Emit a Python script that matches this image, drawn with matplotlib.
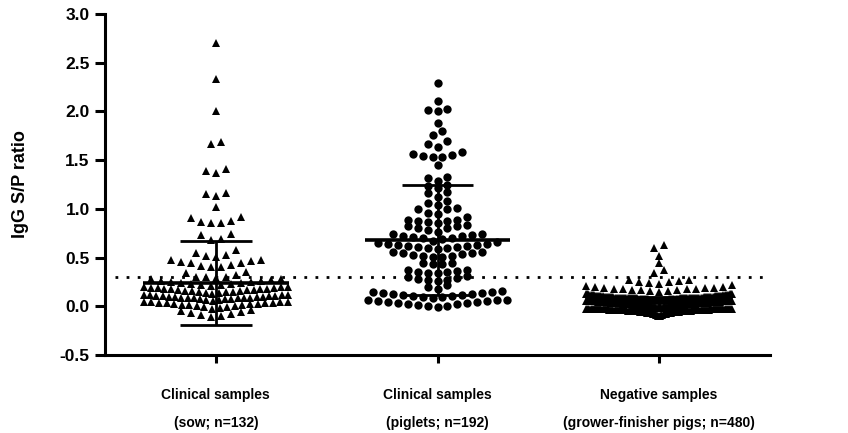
import numpy as np
import matplotlib
matplotlib.use("Agg")
import matplotlib.pyplot as plt

plt.rcParams["font.family"] = ["Liberation Sans", "DejaVu Sans"]
plt.rcParams["font.weight"] = "bold"

# ---------------- data ----------------
categories = [
    "Clinical samples\n(sow; n=132)",
    "Clinical samples\n(piglets; n=192)",
    "Negative samples\n(grower-finisher pigs; n=480)",
]

sow_values = [
    2.70, 2.33, 2.00, 1.69, 1.67, 1.41, 1.39, 1.37, 1.16, 1.15, 1.13, 1.02,
    0.92, 0.91, 0.88, 0.87, 0.85, 0.85, 0.74, 0.73, 0.69, 0.68,
    0.58, 0.55, 0.53, 0.52, 0.51,
    0.47, 0.47, 0.46, 0.455, 0.445, 0.44, 0.42, 0.41, 0.40, 0.40,
    0.35, 0.34, 0.32, 0.30, 0.30, 0.30, 0.29,
    0.28, 0.28, 0.27, 0.26, 0.26, 0.25, 0.25, 0.24, 0.24, 0.23, 0.23, 0.22,
    0.22, 0.21,
    0.20, 0.20, 0.20, 0.19, 0.19, 0.19, 0.18, 0.18, 0.18, 0.18, 0.17, 0.17,
    0.17, 0.16, 0.16, 0.16, 0.15, 0.15, 0.15, 0.14, 0.14, 0.13,
    0.12, 0.12, 0.12, 0.12, 0.11, 0.11, 0.11, 0.11, 0.10, 0.10, 0.10, 0.10,
    0.09, 0.09, 0.09, 0.08, 0.08, 0.08, 0.07, 0.07, 0.07, 0.06, 0.06, 0.05,
    0.04, 0.04, 0.04, 0.04, 0.03, 0.03, 0.03, 0.03, 0.02, 0.02, 0.02, 0.01,
    0.01, 0.01, 0.00, 0.00, -0.01, -0.01, -0.02, -0.03,
    -0.04, -0.05, -0.06, -0.07, -0.08, -0.09, -0.10, -0.11,
]

piglet_values = [
    2.29, 2.11, 2.02, 2.01, 2.00, 1.88, 1.80, 1.76, 1.70, 1.67, 1.64,
    1.58, 1.56, 1.55, 1.54, 1.53, 1.53, 1.45,
    1.33, 1.32, 1.29, 1.24, 1.23, 1.21, 1.17, 1.16, 1.12, 1.08, 1.06, 1.04,
    1.01, 1.00, 1.00, 0.96, 0.95,
    0.92, 0.89, 0.89, 0.88, 0.88, 0.86, 0.85,
    0.83, 0.82, 0.82, 0.80, 0.80, 0.78, 0.76,
    0.74, 0.74, 0.73, 0.72, 0.72, 0.71, 0.70, 0.70, 0.69, 0.67,
    0.66, 0.65, 0.64, 0.64, 0.63, 0.63, 0.62, 0.62, 0.61, 0.61, 0.60, 0.60, 0.59,
    0.56, 0.56, 0.55, 0.55, 0.54, 0.53, 0.52, 0.52, 0.51, 0.51,
    0.44, 0.44, 0.43, 0.43,
    0.37, 0.37, 0.36, 0.35, 0.35, 0.34, 0.34,
    0.31, 0.30, 0.29, 0.28, 0.27, 0.27, 0.26,
    0.22, 0.20, 0.18,
    0.16, 0.15, 0.15, 0.14, 0.14, 0.13, 0.13, 0.12, 0.12, 0.11, 0.11, 0.10,
    0.10, 0.09,
    0.06, 0.06, 0.06, 0.05, 0.05, 0.04, 0.04, 0.03, 0.03, 0.02, 0.02, 0.01,
    0.00, 0.00, -0.01,
]

negative_values = [
    0.63, 0.60, 0.52, 0.44, 0.37, 0.34,
    0.27, 0.27, 0.26, 0.25, 0.25, 0.24, 0.23,
    0.22, 0.21, 0.20, 0.20, 0.19, 0.19, 0.19, 0.18, 0.18,
    0.18, 0.18, 0.17, 0.17, 0.17, 0.16, 0.16, 0.15,
    0.13, 0.13, 0.13, 0.13, 0.13, 0.13,
    0.12, 0.12, 0.12, 0.12, 0.12, 0.12, 0.12, 0.12, 0.12, 0.12, 0.12,
    0.11, 0.11, 0.11, 0.11, 0.11, 0.11, 0.11, 0.11, 0.11, 0.11,
    0.11, 0.11, 0.11, 0.11, 0.11, 0.11,
    0.10, 0.10, 0.10, 0.10, 0.10, 0.10, 0.10, 0.10, 0.10, 0.10,
    0.10, 0.10, 0.10, 0.10, 0.10, 0.10, 0.10, 0.10, 0.10, 0.10,
    0.09, 0.09, 0.09, 0.09, 0.09, 0.09, 0.09, 0.09, 0.09, 0.09,
    0.09, 0.09, 0.09, 0.09, 0.09, 0.09, 0.09, 0.09, 0.09, 0.09,
    0.09, 0.09,
    0.08, 0.08, 0.08, 0.08, 0.08, 0.08, 0.08, 0.08, 0.08, 0.08,
    0.08, 0.08, 0.08, 0.08, 0.08, 0.08, 0.08, 0.08, 0.08, 0.08,
    0.08, 0.08,
    0.07, 0.07, 0.07, 0.07, 0.07, 0.07, 0.07, 0.07, 0.07, 0.07,
    0.07, 0.07, 0.07, 0.07, 0.07, 0.07, 0.07, 0.07, 0.07, 0.07,
    0.06, 0.06, 0.06, 0.06, 0.06, 0.06, 0.06, 0.06, 0.06, 0.06,
    0.06, 0.06, 0.06, 0.06, 0.06, 0.06, 0.06, 0.06,
    0.05, 0.05, 0.05, 0.05, 0.05, 0.05, 0.05, 0.05, 0.05, 0.05,
    0.05, 0.05, 0.05, 0.05, 0.05, 0.05, 0.05, 0.05, 0.05, 0.05,
    0.05, 0.05, 0.05, 0.05, 0.05, 0.05, 0.05, 0.05, 0.05, 0.05,
    0.04, 0.04, 0.04, 0.04, 0.04, 0.04, 0.04, 0.04, 0.04, 0.04,
    0.04, 0.04, 0.04, 0.04, 0.04, 0.04, 0.04, 0.04, 0.04, 0.04,
    0.04, 0.04, 0.04, 0.04, 0.04, 0.04, 0.04, 0.04, 0.04, 0.04,
    0.03, 0.03, 0.03, 0.03, 0.03, 0.03, 0.03, 0.03, 0.03, 0.03,
    0.03, 0.03, 0.03, 0.03, 0.03, 0.03, 0.03, 0.03, 0.03, 0.03,
    0.03, 0.03, 0.03, 0.03, 0.03, 0.03, 0.03, 0.03, 0.03, 0.03,
    0.02, 0.02, 0.02, 0.02, 0.02, 0.02, 0.02, 0.02, 0.02, 0.02,
    0.02, 0.02, 0.02, 0.02, 0.02, 0.02, 0.02, 0.02, 0.02, 0.02,
    0.02, 0.02, 0.02, 0.02, 0.02, 0.02,
    0.01, 0.01, 0.01, 0.01, 0.01, 0.01, 0.01, 0.01, 0.01, 0.01,
    0.01, 0.01, 0.01, 0.01, 0.01, 0.01, 0.01, 0.01, 0.01, 0.01,
    0.01, 0.01,
    0.00, 0.00, 0.00, 0.00, 0.00, 0.00, 0.00, 0.00, 0.00, 0.00,
    0.00, 0.00, 0.00, 0.00, 0.00, 0.00, 0.00, 0.00,
    -0.01, -0.01, -0.01, -0.01, -0.01, -0.01, -0.01, -0.01, -0.01, -0.01,
    -0.01, -0.01, -0.01, -0.01,
    -0.02, -0.02, -0.02, -0.02, -0.02, -0.02, -0.02, -0.02, -0.02, -0.02,
    -0.03, -0.03, -0.03, -0.03, -0.03, -0.03, -0.03, -0.03, -0.03, -0.03,
    -0.03, -0.03, -0.03, -0.03, -0.03, -0.03, -0.03, -0.03, -0.03, -0.03,
    -0.03, -0.03, -0.03, -0.03, -0.03, -0.03, -0.03, -0.03, -0.03, -0.03,
    -0.03, -0.03, -0.03, -0.03, -0.03, -0.03, -0.03, -0.03, -0.03, -0.03,
    -0.03, -0.03,
    -0.04, -0.04, -0.04, -0.04, -0.04, -0.04, -0.04, -0.04, -0.04, -0.04,
    -0.04, -0.04, -0.04, -0.04, -0.04, -0.04, -0.04, -0.04, -0.04, -0.04,
    -0.04, -0.04, -0.04, -0.04, -0.04, -0.04, -0.04, -0.04, -0.04, -0.04,
    -0.04, -0.04, -0.04, -0.04,
    -0.05, -0.05, -0.05, -0.05, -0.05, -0.05, -0.05, -0.05, -0.05, -0.05,
    -0.05, -0.05, -0.05, -0.05, -0.05, -0.05, -0.05, -0.05, -0.05, -0.05,
    -0.05, -0.05,
    -0.06, -0.06, -0.06, -0.06, -0.06, -0.06, -0.06, -0.06, -0.06, -0.06,
    -0.06, -0.06, -0.06, -0.06,
    -0.07, -0.07, -0.07, -0.07, -0.07, -0.07, -0.07, -0.07, -0.07, -0.07,
    -0.08, -0.08, -0.08, -0.08, -0.08, -0.08,
    -0.09, -0.09, -0.09, -0.09,
    -0.10, -0.10, -0.10,
]

group_means = [0.24, 0.68, 0.03]
group_sds = [0.43, 0.56, 0.07]
cutoff_value = 0.3
ytick_values = [-0.5, 0.0, 0.5, 1.0, 1.5, 2.0, 2.5, 3.0]
ytick_labels = ["-0.5", "0.0", "0.5", "1.0", "1.5", "2.0", "2.5", "3.0"]
y_label = "IgG S/P ratio"
group_markers = ["^", "o", "^"]


# ---------------- Prism-like scatter (bee-swarm) layout ----------------
def swarm_offsets(vals, row_h, step, half_max):
    vals = np.asarray(vals, dtype=float)
    order = np.argsort(vals, kind="stable")
    rows, cur, start = [], [order[0]], vals[order[0]]
    for idx in order[1:]:
        if vals[idx] < start + row_h:
            cur.append(idx)
        else:
            rows.append(cur)
            cur, start = [idx], vals[idx]
    rows.append(cur)
    offs = np.zeros(len(vals))
    for row in rows:
        n = len(row)
        st = step
        if n > 1 and (n - 1) * step / 2 > half_max:
            st = 2 * half_max / (n - 1)
        slots = (np.arange(n) - (n - 1) / 2) * st
        slot_order = sorted(range(n), key=lambda k: (abs(slots[k]), slots[k]))
        for v_idx, s_idx in zip(row, slot_order):  # row is ascending
            offs[v_idx] = slots[s_idx]
    return offs


fig = plt.figure(figsize=(8.48, 4.33), dpi=100)
ax = fig.add_axes([105 / 848, 78 / 433, 665 / 848, 341 / 433])

px = 1 / 221.7  # one pixel in x data units
groups = [sow_values, piglet_values, negative_values]
half_widths = [72 * px, 70 * px, 73 * px]
marker_sizes = [5.3, 6.0, 5.3]

for gi, vals in enumerate(groups):
    offs = swarm_offsets(vals, 0.075, 10 * px, half_widths[gi])
    ax.plot(gi + offs, vals, linestyle="none", marker=group_markers[gi],
            ms=marker_sizes[gi], color="black", mew=0, zorder=2)

# cutoff line
ax.hlines(cutoff_value, -0.455, 2.485, colors="black", linewidth=2.0,
          linestyles=(0, (1, 3.0)), zorder=1)

# mean +/- SD bars
for gi, (m, sd) in enumerate(zip(group_means, group_sds)):
    ax.hlines(m, gi - 73 * px, gi + 73 * px, colors="black", linewidth=2.6, zorder=3)
    ax.vlines(gi, m - sd, m + sd, colors="black", linewidth=2.0, zorder=3)
    ax.hlines([m - sd, m + sd], gi - 36 * px, gi + 36 * px, colors="black",
              linewidth=2.0, zorder=3)

ax.set_xlim(-0.5, 2.5)
ax.set_ylim(-0.5, 3.0)
ax.set_yticks(ytick_values)
ax.set_yticklabels(ytick_labels, fontsize=12.5, fontweight="bold")
ax.set_xticks(range(len(categories)))
ax.set_xticklabels(categories, fontsize=10, fontweight="bold")
for lbl in ax.get_xticklabels():
    lbl.set_linespacing(2.25)
ax.set_ylabel(y_label, fontsize=13, fontweight="bold")
ax.yaxis.set_label_coords(-0.114, 0.5)

for side in ["top", "right"]:
    ax.spines[side].set_visible(False)
for side in ["left", "bottom"]:
    ax.spines[side].set_linewidth(2.2)
ax.tick_params(axis="y", length=7, width=2.2, pad=4)
ax.tick_params(axis="x", length=6, width=2.2, pad=18)

fig.savefig("out.png", dpi=100)
